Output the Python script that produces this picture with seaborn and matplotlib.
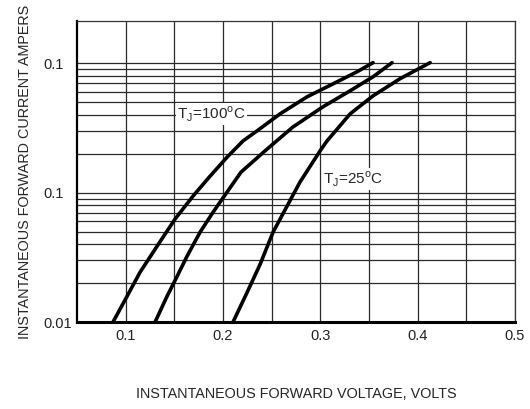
import numpy as np
import pandas as pd
import matplotlib
matplotlib.use("Agg")
import matplotlib.pyplot as plt
from matplotlib.ticker import FixedLocator, NullFormatter
import seaborn as sns

# curves (volts, amps)
v_100a = [0.087, 0.1014, 0.1147, 0.1322, 0.1507, 0.1692, 0.1867, 0.2042, 0.2206,
          0.2350, 0.2586, 0.2864, 0.3131, 0.3378, 0.3542]
i_100a = [0.01, 0.0158, 0.0242, 0.0385, 0.0624, 0.094, 0.134, 0.188, 0.251,
          0.300, 0.406, 0.550, 0.693, 0.859, 1.01]

v_100b = [0.1302, 0.1425, 0.1528, 0.1630, 0.1764, 0.1898, 0.2042, 0.2185, 0.2453,
          0.2720, 0.3028, 0.3306, 0.3542, 0.3737]
i_100b = [0.01, 0.0158, 0.0225, 0.0322, 0.0494, 0.0706, 0.101, 0.144, 0.217,
          0.322, 0.461, 0.612, 0.786, 1.01]

v_25 = [0.2103, 0.2247, 0.2381, 0.2514, 0.2658, 0.2792, 0.2997, 0.3069, 0.3306,
        0.3542, 0.3819, 0.4128]
i_25 = [0.01, 0.0169, 0.0279, 0.0494, 0.0786, 0.121, 0.210, 0.251, 0.406,
        0.560, 0.759, 1.01]

y_ticks = [0.01, 0.1, 1]
y_labels = ["0.01", "0.1", "0.1"]
x_ticks = [0.1, 0.2, 0.3, 0.4, 0.5]
x_labels = ["0.1", "0.2", "0.3", "0.4", "0.5"]

df = pd.concat([
    pd.DataFrame({"v": v_100a, "i": i_100a, "curve": "a"}),
    pd.DataFrame({"v": v_100b, "i": i_100b, "curve": "b"}),
    pd.DataFrame({"v": v_25, "i": i_25, "curve": "c"}),
])

sns.set_style("white")
plt.rcParams["font.family"] = ["Liberation Sans", "DejaVu Sans"]

fig = plt.figure(figsize=(5.3, 4.09), dpi=100)
ax = fig.add_axes([0.1453, 0.2127, 0.8264, 0.7360])

sns.lineplot(data=df, x="v", y="i", hue="curve", units="curve", estimator=None,
             sort=False, palette=["black"] * 3, linewidth=2.6, legend=False,
             ax=ax, zorder=3)

ax.set_yscale("log")
ax.set_xlim(0.05, 0.5)
ax.set_ylim(0.01, 2.12)

ax.set_xticks(x_ticks)
ax.set_xticklabels(x_labels, fontsize=10.5)
ax.xaxis.set_minor_locator(FixedLocator([0.15, 0.25, 0.35, 0.45]))
ax.set_yticks(y_ticks)
ax.set_yticklabels(y_labels, fontsize=10.5, ha="left")
minors = [m * d for d in (0.01, 0.1) for m in range(2, 10)]
ax.yaxis.set_minor_locator(FixedLocator(minors))
ax.yaxis.set_minor_formatter(NullFormatter())
ax.tick_params(which="both", length=0, colors="#222222")
ax.tick_params(axis="x", pad=5)
ax.tick_params(axis="y", pad=24.5)

ax.grid(True, which="both", color="#2a2a2a", linewidth=0.9)
ax.set_axisbelow(True)

for side in ["top", "right"]:
    ax.spines[side].set_linewidth(0.9)
    ax.spines[side].set_color("#333333")
ax.spines["bottom"].set_linewidth(2.2)
ax.spines["left"].set_linewidth(1.6)
ax.spines["bottom"].set_color("black")
ax.spines["left"].set_color("black")

ax.set_xlabel("INSTANTANEOUS FORWARD VOLTAGE, VOLTS", fontsize=10.4, labelpad=32)
ax.set_ylabel("INSTANTANEOUS FORWARD CURRENT AMPERS", fontsize=10.4, labelpad=8)

box = dict(facecolor="white", edgecolor="none", pad=1)
ax.text(0.1528, 0.406, r"T$_\mathregular{J}$=100$^\mathregular{o}$C", fontsize=11,
        va="center", ha="left", bbox=box, zorder=4)
ax.text(0.303, 0.127, r"T$_\mathregular{J}$=25$^\mathregular{o}$C", fontsize=11,
        va="center", ha="left", bbox=box, zorder=4)

plt.savefig("out.png", dpi=100)
